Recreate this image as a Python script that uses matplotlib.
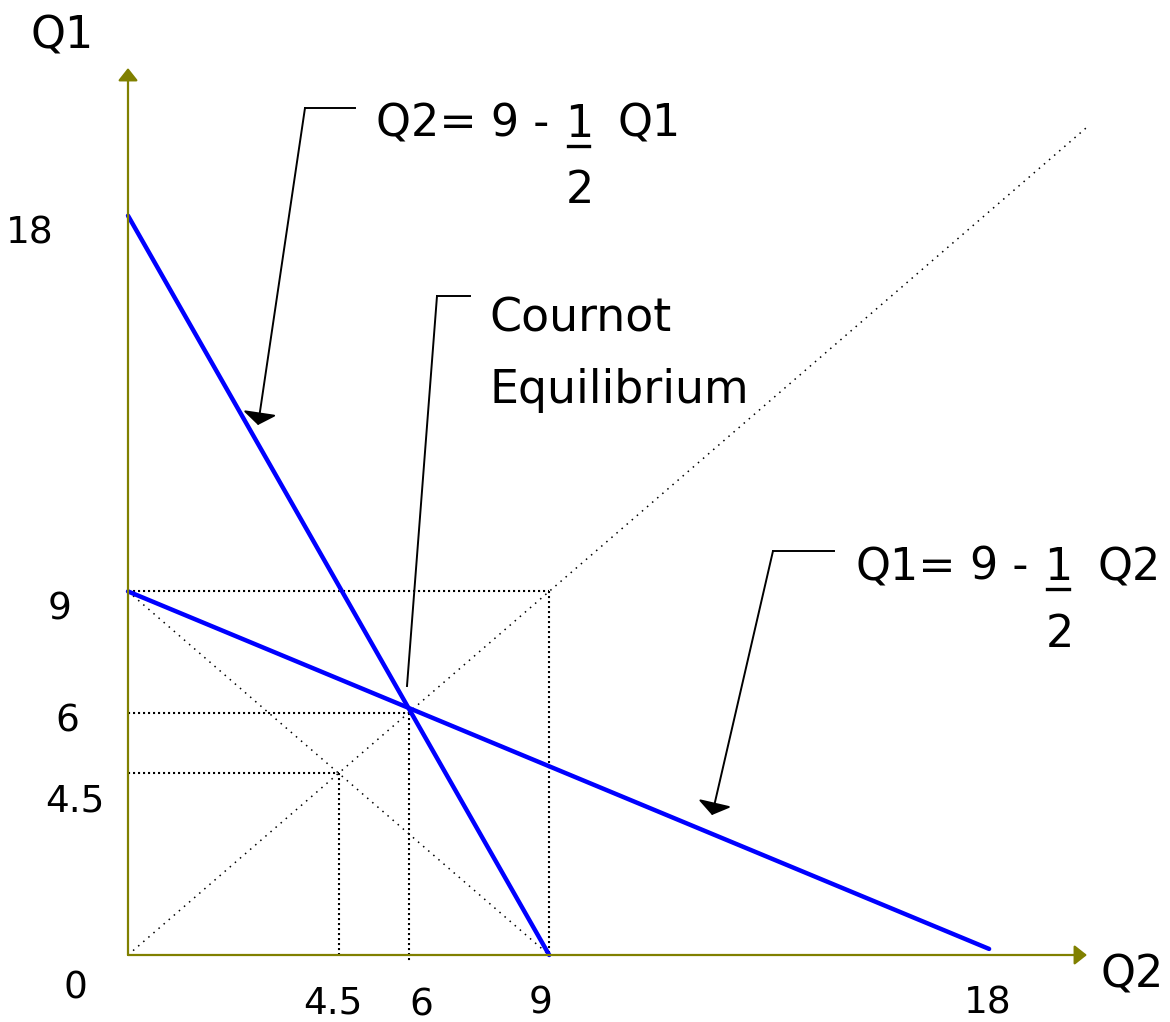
import matplotlib.pyplot as plt

# ── data ──────────────────────────────────────────────────────────────────────
# reaction curve of firm 2: Q2 = 9 - Q1/2  (points as (Q2, Q1))
rc2_q2 = [0, 9]
rc2_q1 = [18.3, 0]
# reaction curve of firm 1: Q1 = 9 - Q2/2
rc1_q2 = [0, 18.4]
rc1_q1 = [9, 0.15]
# 45-degree line and the Q1 + Q2 = 9 line
diag_q = [0, 20.5]
anti_q2 = [0, 9]
anti_q1 = [9, 0]
# guide levels (collusion 4.5, Cournot 6, competitive 9)
guide_levels = [4.5, 6, 9]
x_tick_vals = [4.5, 6, 9, 18]
y_tick_vals = [18, 9, 6, 4.5]

# ── pixel layout ─────────────────────────────────────────────────────────────
W, H = 1170, 1022
X0, Y0 = 128, 955          # origin in pixels
SX, SY = 46.8, 40.4        # pixels per unit

plt.rcParams["font.family"] = ["DejaVu Sans"]
FS = 32
TS = 27
OLIVE = "#808000"


def px(x, y):
    """pixel (from top-left) -> data coords"""
    return (x - X0) / SX, (Y0 - y) / SY


fig = plt.figure(figsize=(W / 100, H / 100), dpi=100)
ax = fig.add_axes([0, 0, 1, 1])
ax.set_xlim(-X0 / SX, (W - X0) / SX)
ax.set_ylim(-(H - Y0) / SY, Y0 / SY)
ax.axis("off")

# axes with arrows
ax_kw = dict(arrowstyle="-|>,head_length=0.38,head_width=0.3", color=OLIVE,
             lw=1.6, shrinkA=0, shrinkB=0, mutation_scale=20)
ax.annotate("", xy=px(128, 68), xytext=(0, 0), arrowprops=ax_kw)
ax.annotate("", xy=px(1087, 955), xytext=(0, 0), arrowprops=ax_kw)

# dotted guides
gd = dict(color="black", lw=1.5, ls=(0, (1, 1.4)))
for lv in guide_levels:
    ax.plot([0, lv], [lv, lv], **gd)
    lo = -0.2 if lv == 6 else 0
    ax.plot([lv, lv], [lv, lo], **gd)
thin = dict(color="black", lw=1.1, ls=(0, (1, 3.4)))
ax.plot(diag_q, diag_q, **thin)
ax.plot(anti_q2, anti_q1, **thin)

# reaction curves
ax.plot(rc2_q2, rc2_q1, color="#0000ff", lw=3.2, solid_capstyle="round")
ax.plot(rc1_q2, rc1_q1, color="#0000ff", lw=3.2, solid_capstyle="round")

# leader lines
lead = dict(color="black", lw=1.4)
arr = dict(arrowstyle="-|>,head_length=0.3,head_width=0.42", color="black",
           lw=1.4, shrinkA=0, shrinkB=0, mutation_scale=25)
# Q2 reaction
ax.plot(*zip(px(305, 108), px(355, 108)), **lead)
ax.annotate("", xy=px(258, 425), xytext=px(305, 108), arrowprops=arr)
# Cournot
ax.plot(*zip(px(437, 296), px(470, 296)), **lead)
ax.plot(*zip(px(437, 296), px(407, 686)), **lead)
# Q1 reaction
ax.plot(*zip(px(773, 551), px(834, 551)), **lead)
ax.annotate("", xy=px(712, 815), xytext=px(773, 551), arrowprops=arr)


def label(x, y, s, ha="left", size=FS):
    fig.text(x / W, 1 - y / H, s, ha=ha, va="baseline", fontsize=size)


def bar(x1, x2, y):
    fig.add_artist(plt.Line2D([x1 / W, x2 / W], [1 - y / H, 1 - y / H],
                              color="black", lw=2.4, transform=fig.transFigure))


# equations
label(376, 137, "Q2= 9 -")
label(579, 137, "1", ha="center")
bar(568, 589, 146)
label(580, 203, "2", ha="center")
label(618, 137, "Q1")

label(855, 580, "Q1=")
label(970, 580, "9 -")
label(1058, 580, "1", ha="center")
bar(1047, 1069, 589)
label(1060, 647, "2", ha="center")
label(1097, 580, "Q2")

label(489, 331, "Cournot", size=33)
label(489, 403, "Equilibrium", size=33)

# axis titles and tick labels
label(62, 49, "Q1", ha="center")
label(1132, 987, "Q2", ha="center")
label(75, 998, "0", ha="center", size=TS)
y_lab_px = {18: (30, 243), 9: (60, 619), 6: (67, 732), 4.5: (75, 811)}
for v in y_tick_vals:
    xp, yp = y_lab_px[v]
    label(xp, yp, f"{v:g}", ha="center", size=TS)
x_lab_px = {4.5: (333, 1013), 6: (421, 1016), 9: (541, 1013), 18: (988, 1013)}
for v in x_tick_vals:
    xp, yp = x_lab_px[v]
    label(xp, yp, f"{v:g}", ha="center", size=TS)

fig.savefig("out.png", dpi=100, facecolor="white")
